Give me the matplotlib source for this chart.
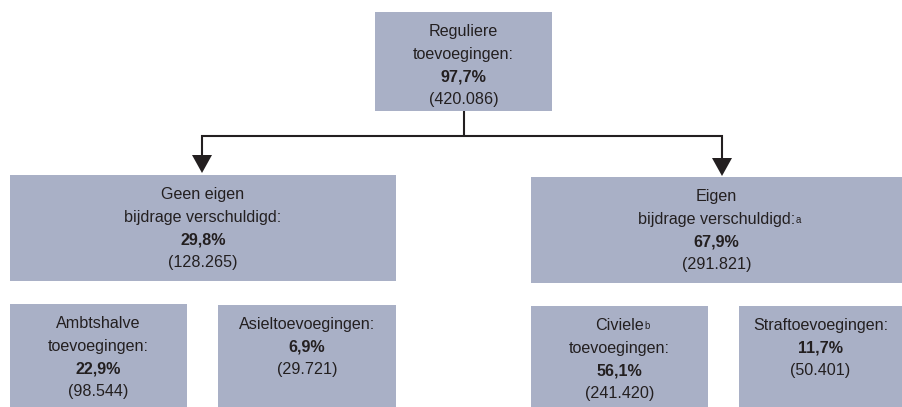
import matplotlib
matplotlib.use("Agg")
import matplotlib.pyplot as plt
from matplotlib.patches import Rectangle, Polygon

# ---- data ----
node_names = ["top", "left", "right", "amb", "asiel", "civ", "straf"]
node_lines = [
    ["Reguliere", "toevoegingen:"],
    ["Geen eigen", "bijdrage verschuldigd:"],
    ["Eigen", "bijdrage verschuldigd:"],
    ["Ambtshalve", "toevoegingen:"],
    ["Asieltoevoegingen:"],
    ["Civiele", "toevoegingen:"],
    ["Straftoevoegingen:"],
]
node_pct = ["97,7%", "29,8%", "67,9%", "22,9%", "6,9%", "56,1%", "11,7%"]
node_count = ["(420.086)", "(128.265)", "(291.821)", "(98.544)", "(29.721)", "(241.420)", "(50.401)"]
# footnote markers: (node index, line index, marker)
footnotes = [(2, 1, "a"), (5, 0, "b")]

# ---- layout (pixel coordinates) ----
W, H = 902, 407
boxes = {  # x0, y0, x1, y1
    "top": (375, 12, 552, 111),
    "left": (10, 175, 396, 281),
    "right": (531, 177, 902, 283),
    "amb": (10, 304, 187, 410),
    "asiel": (218, 305, 396, 410),
    "civ": (531, 306, 708, 410),
    "straf": (739, 306, 902, 410),
}
box_color = "#a9b0c6"
text_color = "#231f20"
FONT = ["Liberation Sans Narrow", "Liberation Sans", "DejaVu Sans"]
FS = 11.6
first_off = 19.5
spacing = 22.6

fig = plt.figure(figsize=(W / 100, H / 100), dpi=100)
ax = fig.add_axes([0, 0, 1, 1])
ax.set_xlim(0, W)
ax.set_ylim(H, 0)
ax.axis("off")

for name in node_names:
    x0, y0, x1, y1 = boxes[name]
    ax.add_patch(Rectangle((x0, y0), x1 - x0, y1 - y0, facecolor=box_color, edgecolor="none"))

text_objs = {}
for i, name in enumerate(node_names):
    x0, y0, x1, y1 = boxes[name]
    cx = (x0 + x1) / 2
    lines = node_lines[i] + [node_pct[i], node_count[i]]
    for j, ln in enumerate(lines):
        bold = ln == node_pct[i]
        t = ax.text(cx, y0 + first_off + j * spacing, ln, ha="center", va="center",
                    fontsize=FS, family=FONT, color=text_color,
                    fontweight="bold" if bold else "normal")
        text_objs[(i, j)] = t

# superscript markers
fig.canvas.draw()
renderer = fig.canvas.get_renderer()
inv = ax.transData.inverted()
for (ni, li, mk) in footnotes:
    t = text_objs[(ni, li)]
    bb = t.get_window_extent(renderer)
    (xr, ytop) = inv.transform((bb.x1, bb.y1))
    ax.text(xr + 0.8, ytop + 3, mk, ha="left", va="top", fontsize=FS * 0.6,
            family=FONT, color=text_color)

# connectors
lc = "#231f20"
tx0, ty0, tx1, ty1 = boxes["top"]
tcx = (tx0 + tx1) / 2
hy = 136
lx = 202
rx = 722
ax.plot([tcx, tcx], [ty1, hy], color=lc, lw=1.5, solid_capstyle="butt")
ax.plot([lx, lx, rx, rx], [156, hy, hy, 158], color=lc, lw=1.5, solid_joinstyle="miter")
for x, ytop, ytip in [(lx, 155, 173), (rx, 158, 176)]:
    ax.add_patch(Polygon([(x - 10, ytop), (x + 10, ytop), (x, ytip)], closed=True,
                         facecolor=lc, edgecolor="none"))

fig.savefig("out.png", dpi=100)
